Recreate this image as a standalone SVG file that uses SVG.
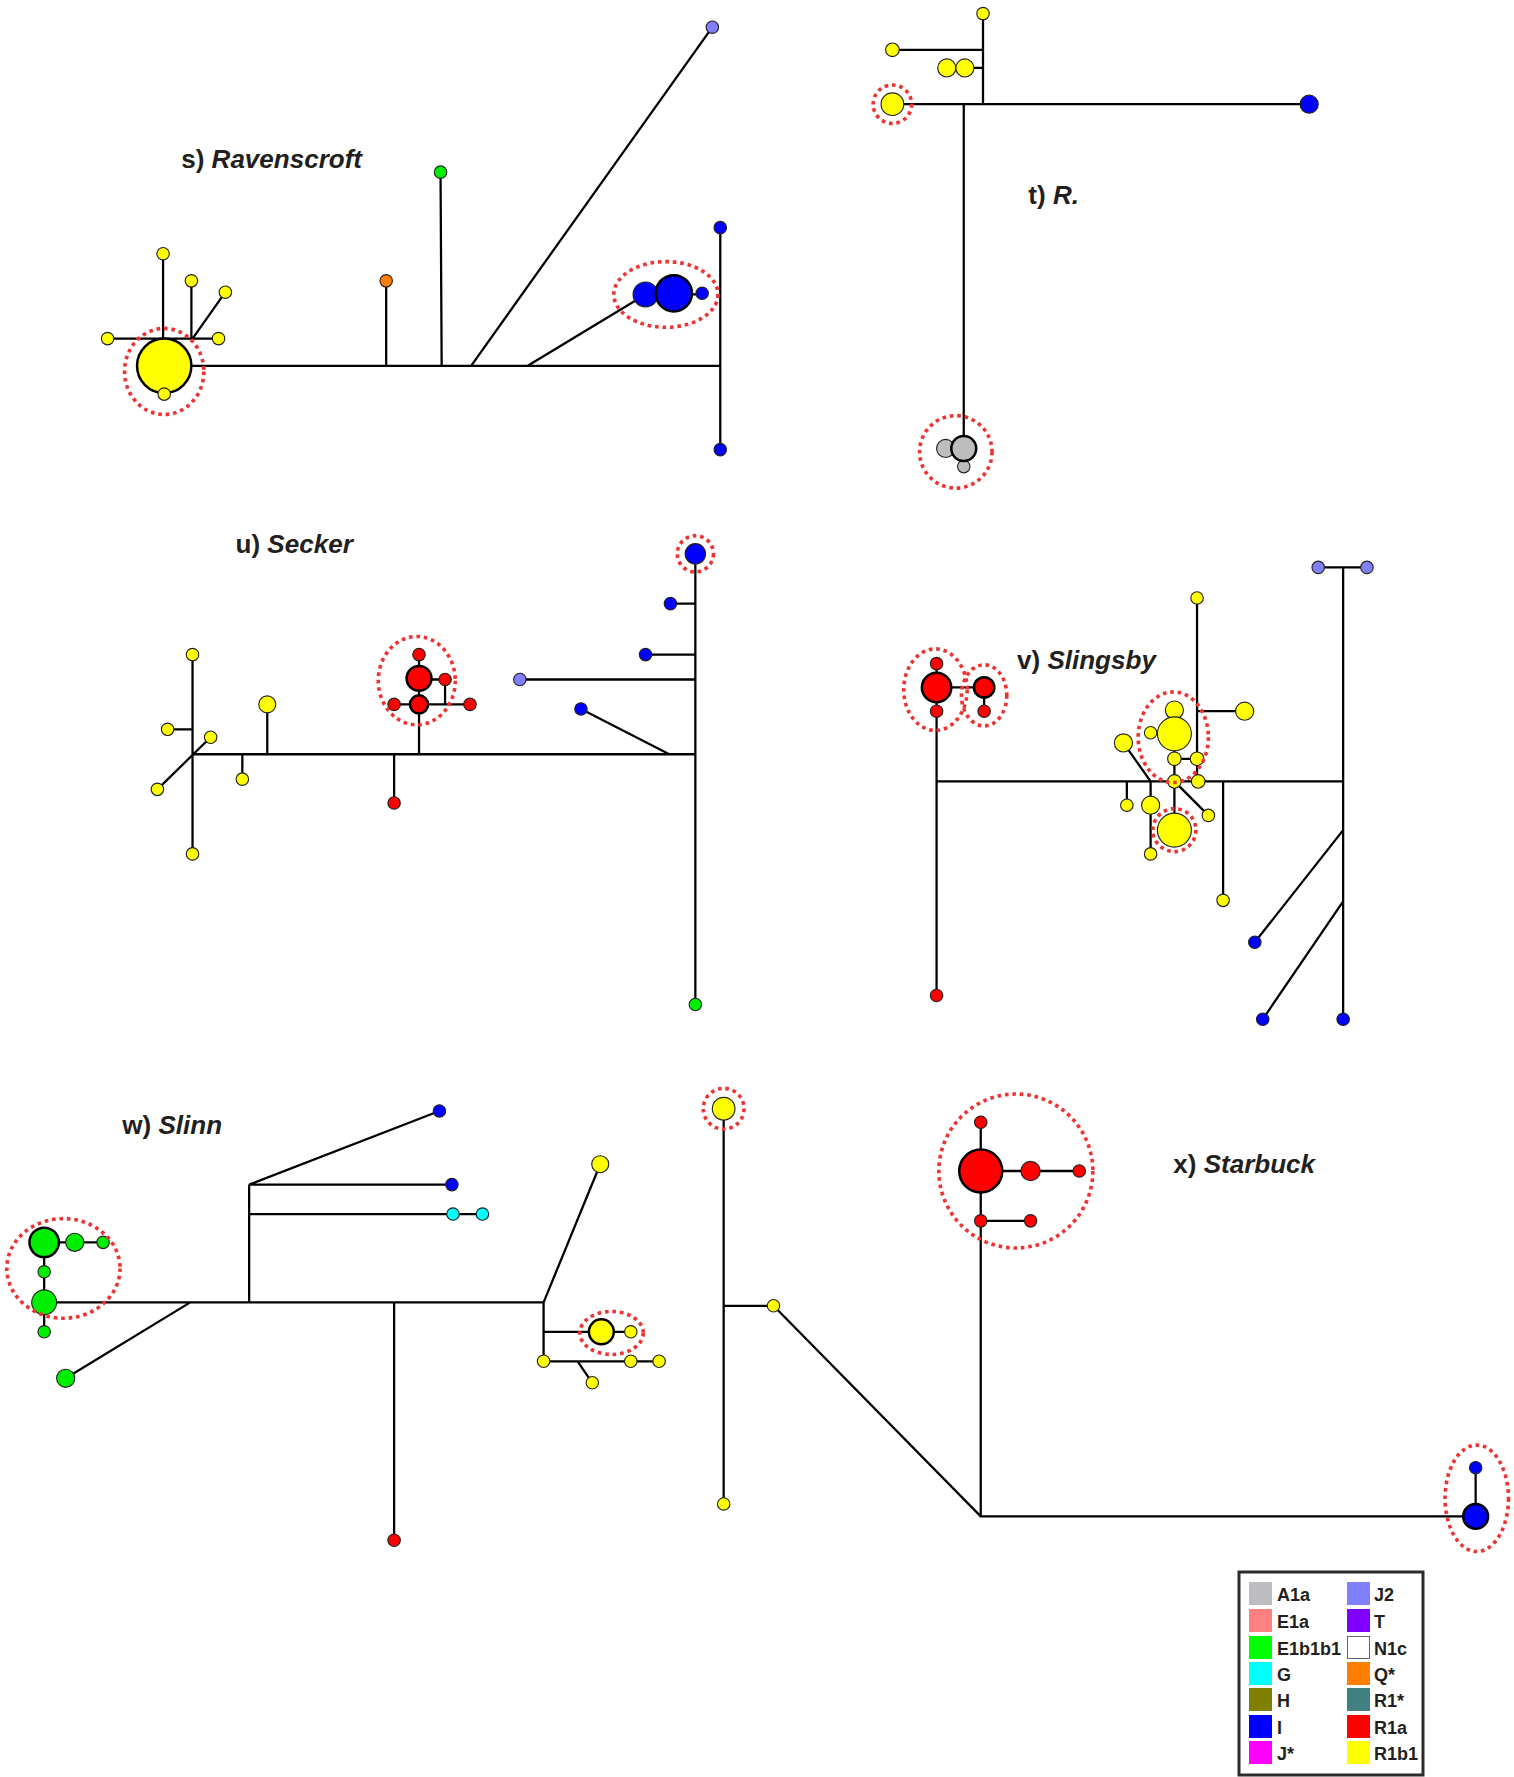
<svg xmlns="http://www.w3.org/2000/svg" width="1514" height="1777" viewBox="0 0 1514 1777">
<style>
.ln{stroke:#000;stroke-width:2;fill:none}
.n{stroke:#222;stroke-width:1}
.nb{stroke:#000;stroke-width:2.2}
.hl{fill:none;stroke:#ee3333;stroke-width:3.2;stroke-dasharray:3.2 3.4}
.y{fill:#ffff00}.b{fill:#0000ff}.r{fill:#ff0000}.g{fill:#00ee00}.gy{fill:#bdbdbd}.j2{fill:#8080ff}.o{fill:#ff7f00}.c{fill:#00ffff}
.lab{font-family:"Liberation Sans",Arial,sans-serif;font-weight:bold;font-size:23px;fill:#231f20}
.it{font-style:italic}
.lg{font-family:"Liberation Sans",Arial,sans-serif;font-weight:bold;font-size:18px;fill:#231f20}
</style>
<rect width="1514" height="1777" fill="#fff"/>
<g transform="scale(1.1325)">
<g id="connectors" class="ln">
<path d="M145,323H636M636,201V397M95,299H193M144,224V300M169,248V299M170,299L199,258M341,248V323M389,152L390,323M416,323L629,24M466,323L570,260M570,260H620"/>
<path d="M868,12V92M788,44H868M852,60H868M788,92H1156M851,92V396"/>
<path d="M170,666H614M614,489V887M592,533H614M570,578H614M459,600H614M513,626L591,666M370,578V666M370,600H393V622M348,622H415M348,666V709M236,622V666M214,666V688M170,578V754M148,644H170M139,697L186,651"/>
<path d="M1186,501V900M1164,501H1207M1186,733L1108,832M1186,796L1115,900M827,690H1186M827,586V879M827,607H869V628M1057,528V690M1057,628H1099M1016,647H1037M1037,627V733M1037,670H1057M992,656L1016,690M1016,690V754M995,690V711M1037,690L1067,720M1080,690V795"/>
<path d="M39,1150H480M39,1097H91M39,1097V1176M168,1150L58,1217M220,1046V1150M220,1046L388,981M220,1046H399M220,1072H426M348,1150V1360M480,1150L530,1028M480,1150V1202M480,1176H557M480,1202H582M510,1202L523,1221"/>
<path d="M639,979V1328M639,1153H683M683,1153L866,1339M866,991V1339H1303M1303,1296V1339M866,1034H953M866,1078H910"/>
</g>
<g id="panel-s">
<g id="s1"><circle class="y nb" cx="145" cy="323" r="24"/></g>
<g id="s2"><circle class="y n" cx="145" cy="348" r="5.5"/></g>
<g id="s3"><circle class="y n" cx="95" cy="299" r="5.5"/></g>
<g id="s4"><circle class="y n" cx="193" cy="299" r="5.5"/></g>
<g id="s5"><circle class="y n" cx="144" cy="224" r="5.5"/></g>
<g id="s6"><circle class="y n" cx="169" cy="248" r="5.5"/></g>
<g id="s7"><circle class="y n" cx="199" cy="258" r="5.5"/></g>
<g id="s8"><circle class="o n" cx="341" cy="248" r="5.5"/></g>
<g id="s9"><circle class="g n" cx="389" cy="152" r="5.5"/></g>
<g id="s10"><circle class="j2 n" cx="629" cy="24" r="5.5"/></g>
<g id="s11"><circle class="b n" cx="570" cy="260" r="11"/></g>
<g id="s12"><circle class="b nb" cx="595" cy="259" r="16"/></g>
<g id="s13"><circle class="b n" cx="620" cy="259" r="5.5"/></g>
<g id="s14"><circle class="b n" cx="636" cy="201" r="5.5"/></g>
<g id="s15"><circle class="b n" cx="636" cy="397" r="5.5"/></g>
<ellipse class="hl" cx="145" cy="328" rx="35" ry="38"/>
<ellipse class="hl" cx="588" cy="260" rx="46" ry="29"/>
<text class="lab" x="160" y="148">s) <tspan class="it">Ravenscroft</tspan></text>
</g>
<g id="panel-t">
<g id="t1"><circle class="y n" cx="868" cy="12" r="5.5"/></g>
<g id="t2"><circle class="y n" cx="788" cy="44" r="6"/></g>
<g id="t3"><circle class="y n" cx="836" cy="60" r="8"/></g>
<g id="t4"><circle class="y n" cx="852" cy="60" r="8"/></g>
<g id="t5"><circle class="y n" cx="788" cy="92" r="10"/></g>
<g id="t6"><circle class="b n" cx="1156" cy="92" r="8"/></g>
<g id="t7"><circle class="gy n" cx="835" cy="396" r="8"/></g>
<g id="t8"><circle class="gy n" cx="851" cy="412" r="5.5"/></g>
<g id="t9"><circle class="gy nb" cx="851" cy="396" r="11"/></g>
<circle class="hl" cx="788" cy="92" r="17"/>
<circle class="hl" cx="844" cy="399" r="32"/>
<text class="lab" x="908" y="180">t) <tspan class="it">R.</tspan></text>
</g>
<g id="panel-u">
<g id="u1"><circle class="b n" cx="614" cy="489" r="9"/></g>
<g id="u2"><circle class="g n" cx="614" cy="887" r="5.5"/></g>
<g id="u3"><circle class="b n" cx="592" cy="533" r="5.5"/></g>
<g id="u4"><circle class="b n" cx="570" cy="578" r="5.5"/></g>
<g id="u5"><circle class="b n" cx="513" cy="626" r="5.5"/></g>
<g id="u6"><circle class="j2 n" cx="459" cy="600" r="5.5"/></g>
<g id="u7"><circle class="r n" cx="370" cy="578" r="5.5"/></g>
<g id="u8"><circle class="r n" cx="393" cy="600" r="5.5"/></g>
<g id="u9"><circle class="r n" cx="348" cy="622" r="5.5"/></g>
<g id="u10"><circle class="r n" cx="415" cy="622" r="5.5"/></g>
<g id="u11"><circle class="r nb" cx="370" cy="599" r="11"/></g>
<g id="u12"><circle class="r nb" cx="370" cy="622" r="8"/></g>
<g id="u13"><circle class="r n" cx="348" cy="709" r="5.5"/></g>
<g id="u14"><circle class="y n" cx="236" cy="622" r="7.5"/></g>
<g id="u15"><circle class="y n" cx="214" cy="688" r="5.5"/></g>
<g id="u16"><circle class="y n" cx="170" cy="578" r="5.5"/></g>
<g id="u17"><circle class="y n" cx="170" cy="754" r="5.5"/></g>
<g id="u18"><circle class="y n" cx="148" cy="644" r="5.5"/></g>
<g id="u19"><circle class="y n" cx="139" cy="697" r="5.5"/></g>
<g id="u20"><circle class="y n" cx="186" cy="651" r="5.5"/></g>
<circle class="hl" cx="614" cy="489" r="16"/>
<ellipse class="hl" cx="368" cy="601" rx="34" ry="39"/>
<text class="lab" x="208" y="488">u) <tspan class="it">Secker</tspan></text>
</g>
<g id="panel-v">
<g id="v1"><circle class="j2 n" cx="1164" cy="501" r="5.5"/></g>
<g id="v2"><circle class="j2 n" cx="1207" cy="501" r="5.5"/></g>
<g id="v3"><circle class="b n" cx="1186" cy="900" r="5.5"/></g>
<g id="v4"><circle class="b n" cx="1108" cy="832" r="5.5"/></g>
<g id="v5"><circle class="b n" cx="1115" cy="900" r="5.5"/></g>
<g id="v6"><circle class="r n" cx="827" cy="586" r="5.5"/></g>
<g id="v7"><circle class="r n" cx="827" cy="628" r="5.5"/></g>
<g id="v8"><circle class="r nb" cx="827" cy="607" r="13"/></g>
<g id="v9"><circle class="r nb" cx="869" cy="607" r="9"/></g>
<g id="v10"><circle class="r n" cx="869" cy="628" r="5.5"/></g>
<g id="v11"><circle class="r n" cx="827" cy="879" r="5.5"/></g>
<g id="v12"><circle class="y n" cx="1057" cy="528" r="5.5"/></g>
<g id="v13"><circle class="y n" cx="1099" cy="628" r="8"/></g>
<g id="v14"><circle class="y n" cx="1037" cy="627" r="8"/></g>
<g id="v15"><circle class="y n" cx="1016" cy="647" r="5.5"/></g>
<g id="v16"><circle class="y n" cx="1037" cy="648" r="15"/></g>
<g id="v17"><circle class="y n" cx="1037" cy="670" r="6"/></g>
<g id="v18"><circle class="y n" cx="1057" cy="670" r="6"/></g>
<g id="v19"><circle class="y n" cx="1037" cy="690" r="6"/></g>
<g id="v20"><circle class="y n" cx="1058" cy="690" r="6"/></g>
<g id="v21"><circle class="y n" cx="1037" cy="733" r="15"/></g>
<g id="v22"><circle class="y n" cx="992" cy="656" r="8"/></g>
<g id="v23"><circle class="y n" cx="1016" cy="711" r="8"/></g>
<g id="v24"><circle class="y n" cx="1016" cy="754" r="5.5"/></g>
<g id="v25"><circle class="y n" cx="995" cy="711" r="5.5"/></g>
<g id="v26"><circle class="y n" cx="1067" cy="720" r="5.5"/></g>
<g id="v27"><circle class="y n" cx="1080" cy="795" r="5.5"/></g>
<ellipse class="hl" cx="826" cy="609" rx="28" ry="36"/>
<ellipse class="hl" cx="869" cy="614" rx="20" ry="27"/>
<ellipse class="hl" cx="1036" cy="651" rx="31" ry="40"/>
<circle class="hl" cx="1037" cy="733" r="19"/>
<text class="lab" x="898" y="591">v) <tspan class="it">Slingsby</tspan></text>
</g>
<g id="panel-w">
<g id="w1"><circle class="g nb" cx="39" cy="1097" r="13"/></g>
<g id="w2"><circle class="g n" cx="66" cy="1097" r="8"/></g>
<g id="w3"><circle class="g n" cx="91" cy="1097" r="5.5"/></g>
<g id="w4"><circle class="g n" cx="39" cy="1123" r="5.5"/></g>
<g id="w5"><circle class="g n" cx="39" cy="1150" r="11"/></g>
<g id="w6"><circle class="g n" cx="39" cy="1176" r="5.5"/></g>
<g id="w7"><circle class="g n" cx="58" cy="1217" r="8"/></g>
<g id="w8"><circle class="b n" cx="388" cy="981" r="5.5"/></g>
<g id="w9"><circle class="b n" cx="399" cy="1046" r="5.5"/></g>
<g id="w10"><circle class="c n" cx="400" cy="1072" r="5.5"/></g>
<g id="w11"><circle class="c n" cx="426" cy="1072" r="5.5"/></g>
<g id="w12"><circle class="r n" cx="348" cy="1360" r="5.5"/></g>
<g id="w13"><circle class="y n" cx="530" cy="1028" r="7.5"/></g>
<g id="w14"><circle class="y nb" cx="531" cy="1176" r="11"/></g>
<g id="w15"><circle class="y n" cx="557" cy="1176" r="5.5"/></g>
<g id="w16"><circle class="y n" cx="480" cy="1202" r="5.5"/></g>
<g id="w17"><circle class="y n" cx="557" cy="1202" r="5.5"/></g>
<g id="w18"><circle class="y n" cx="582" cy="1202" r="5.5"/></g>
<g id="w19"><circle class="y n" cx="523" cy="1221" r="5.5"/></g>
<ellipse class="hl" cx="56" cy="1120" rx="50" ry="44"/>
<ellipse class="hl" cx="540" cy="1177" rx="28" ry="19"/>
<text class="lab" x="108" y="1001">w) <tspan class="it">Slinn</tspan></text>
</g>
<g id="panel-x">
<g id="x1"><circle class="y n" cx="639" cy="979" r="10"/></g>
<g id="x2"><circle class="y n" cx="639" cy="1328" r="5.5"/></g>
<g id="x3"><circle class="y n" cx="683" cy="1153" r="5.5"/></g>
<g id="x4"><circle class="b n" cx="1303" cy="1296" r="5.5"/></g>
<g id="x5"><circle class="b nb" cx="1303" cy="1339" r="11"/></g>
<g id="x6"><circle class="r n" cx="866" cy="991" r="5.5"/></g>
<g id="x7"><circle class="r nb" cx="866" cy="1034" r="19"/></g>
<g id="x8"><circle class="r n" cx="910" cy="1034" r="8.5"/></g>
<g id="x9"><circle class="r n" cx="953" cy="1034" r="5.5"/></g>
<g id="x10"><circle class="r n" cx="866" cy="1078" r="5.5"/></g>
<g id="x11"><circle class="r n" cx="910" cy="1078" r="5.5"/></g>
<circle class="hl" cx="639" cy="979" r="18"/>
<ellipse class="hl" cx="1304" cy="1323" rx="28" ry="47"/>
<circle class="hl" cx="897" cy="1034" r="68"/>
<text class="lab" x="1036" y="1036">x) <tspan class="it">Starbuck</tspan></text>
</g>
</g>
<g id="legend">
<rect x="1239" y="1572" width="184" height="203" fill="#fff" stroke="#2b2b2b" stroke-width="3"/>
<rect x="1249" y="1582" width="23" height="23" fill="#bcbdc0"/><text class="lg" x="1277" y="1601">A1a</text>
<rect x="1249" y="1609" width="23" height="23" fill="#ff8080"/><text class="lg" x="1277" y="1628">E1a</text>
<rect x="1249" y="1636" width="23" height="23" fill="#00ff00"/><text class="lg" x="1277" y="1655">E1b1b1</text>
<rect x="1249" y="1662" width="23" height="23" fill="#00ffff"/><text class="lg" x="1277" y="1681">G</text>
<rect x="1249" y="1688" width="23" height="23" fill="#808000"/><text class="lg" x="1277" y="1707">H</text>
<rect x="1249" y="1715" width="23" height="23" fill="#0000ff"/><text class="lg" x="1277" y="1734">I</text>
<rect x="1249" y="1741" width="23" height="23" fill="#ff00ff"/><text class="lg" x="1277" y="1760">J*</text>
<rect x="1347" y="1582" width="23" height="23" fill="#8080ff"/><text class="lg" x="1374" y="1601">J2</text>
<rect x="1347" y="1609" width="23" height="23" fill="#8000ff"/><text class="lg" x="1374" y="1628">T</text>
<rect x="1347.5" y="1636.5" width="22" height="22" fill="#fff" stroke="#666" stroke-width="1"/><text class="lg" x="1374" y="1655">N1c</text>
<rect x="1347" y="1662" width="23" height="23" fill="#ff8000"/><text class="lg" x="1374" y="1681">Q*</text>
<rect x="1347" y="1688" width="23" height="23" fill="#408080"/><text class="lg" x="1374" y="1707">R1*</text>
<rect x="1347" y="1715" width="23" height="23" fill="#ff0000"/><text class="lg" x="1374" y="1734">R1a</text>
<rect x="1347" y="1741" width="23" height="23" fill="#ffff00"/><text class="lg" x="1374" y="1760">R1b1</text>
</g>
</svg>
